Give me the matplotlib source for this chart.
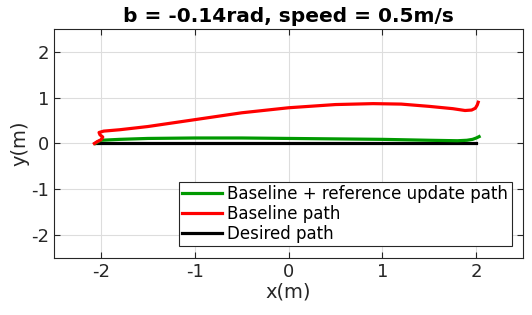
import numpy as np
import matplotlib
matplotlib.use('Agg')
import matplotlib.pyplot as plt

# paths (x in m, y in m)
desired_x = [-2.05, 2.0]
desired_y = [0.0, 0.0]

ref_x = [-2.06, -2.03, -2.0, -1.8, -1.5, -1.0, -0.5, 0.0, 0.5, 1.0, 1.5, 1.8, 1.9, 1.96, 2.0, 2.03]
ref_y = [0.0, 0.04, 0.07, 0.09, 0.11, 0.12, 0.12, 0.11, 0.1, 0.09, 0.07, 0.06, 0.07, 0.09, 0.12, 0.15]

base_x = [-2.07, -2.04, -2.0, -1.98, -2.01, -2.02, -1.97, -1.8, -1.5, -1.0, -0.5, 0.0, 0.5, 0.9, 1.2, 1.5, 1.75, 1.88, 1.95, 1.99, 2.01, 2.02]
base_y = [0.0, 0.04, 0.08, 0.14, 0.19, 0.24, 0.27, 0.3, 0.37, 0.52, 0.67, 0.78, 0.85, 0.87, 0.86, 0.81, 0.76, 0.72, 0.73, 0.77, 0.84, 0.9]

plt.rcParams['axes.unicode_minus'] = False
fig = plt.figure(figsize=(5.32, 3.15), dpi=100)
ax = fig.add_axes([0.1015, 0.181, 0.882, 0.727])

ax.plot(ref_x, ref_y, color='#009900', lw=2.3, label='Baseline + reference update path', zorder=3)
ax.plot(base_x, base_y, color='#ff0000', lw=2.3, label='Baseline path', zorder=3)
ax.plot(desired_x, desired_y, color='black', lw=2.3, label='Desired path', zorder=2)

ax.set_xlim([-2.5, 2.5])
ax.set_ylim([-2.5, 2.5])
ax.set_xticks([-2, -1, 0, 1, 2])
ax.set_yticks([-2, -1, 0, 1, 2])
ax.tick_params(direction='in', top=True, right=True, labelsize=13, length=4, color='#262626', labelcolor='#262626')
ax.grid(True, color='#dddddd', lw=0.8)
ax.set_axisbelow(True)
for s in ax.spines.values():
    s.set_color('#262626')
    s.set_linewidth(0.8)
ax.set_xlabel('x(m)', fontsize=14, color='#262626', labelpad=1)
ax.set_ylabel('y(m)', fontsize=14, color='#262626', labelpad=1)
ax.set_title('b = -0.14rad, speed = 0.5m/s', fontsize=14.5, fontweight='bold', pad=5)
leg = ax.legend(loc='lower right', fontsize=12, fancybox=False, framealpha=1,
                edgecolor='#262626', handlelength=2.4, handletextpad=0.3,
                labelspacing=0.12, borderpad=0.2, borderaxespad=0.7)
leg.get_frame().set_linewidth(0.8)
fig.savefig('out.png', dpi=100)
